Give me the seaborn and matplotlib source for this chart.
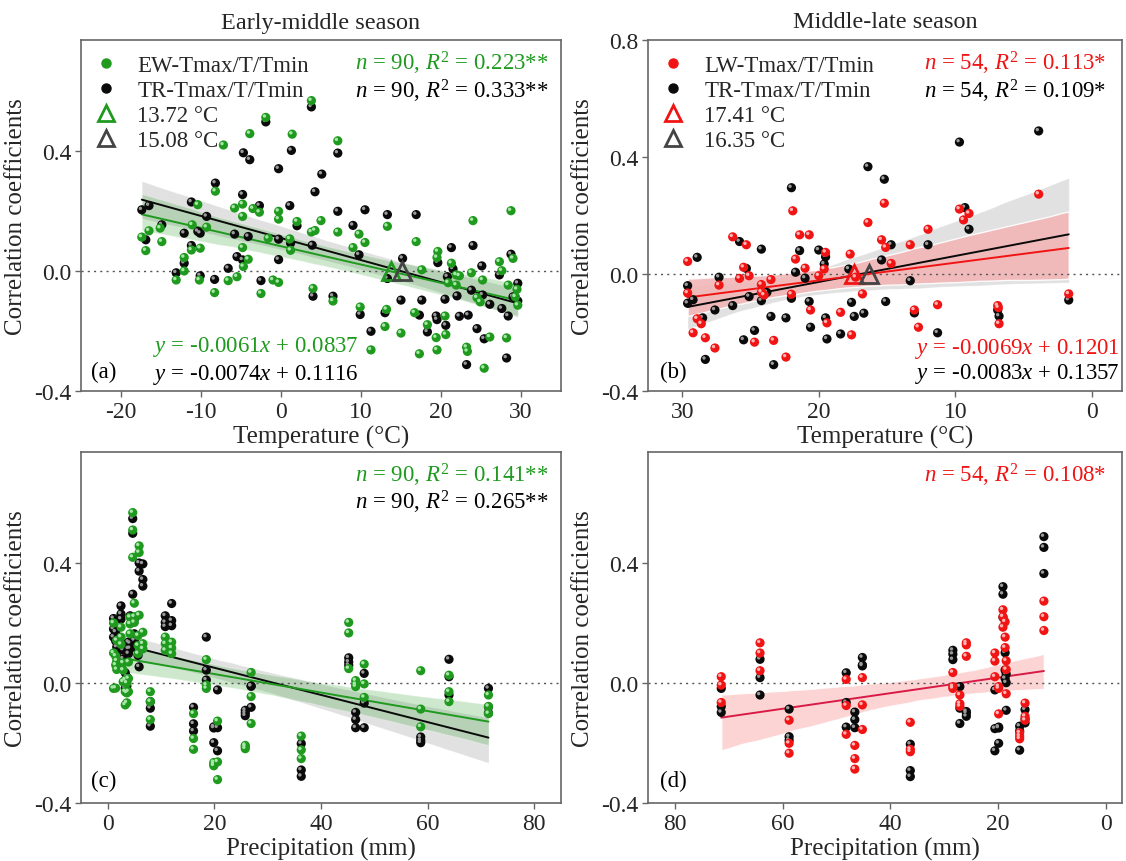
import numpy as np
import matplotlib
matplotlib.use('Agg')
import matplotlib.pyplot as plt
import matplotlib.transforms as mtransforms
from matplotlib.lines import Line2D
from matplotlib.ticker import FormatStrFormatter, MultipleLocator
import seaborn as sns

# (a) early-middle season, temperature vs correlation
ew_temp_a = [-17.4, -16.9, -16.5, -15.1, -14.9, -12.1, -12.1, -13.1, -11.2, -11.1,
             -10.4, -10.1, -10.2, -9.3, -8.2, -8.3, -7.2, -6.6, -5.8, -5.5,
             -4.8, -4.8, -4.8, -4.7, -4.1, -3.9, -3.5, -2.7, -2.5, -1.9,
             -1.6, -1.0, -0.3, -0.3, -0.3, 1.1, 1.2, 1.4, 2.0, 3.8,
             4.25, 3.8, 4.0, 5.0, 6.5, 7.1, 7.1, 9.0, 9.75, 9.9,
             10.5, 11.25, 13.0, 13.2, 13.3, 15.0, 16.7, 16.9, 17.3, 17.6,
             18.3, 19.4, 19.5, 19.6, 19.5, 20.5, 20.6, 20.9, 21.3, 21.9,
             22.3, 21.9, 23.2, 23.3, 23.8, 24.0, 24.5, 24.9, 25.2, 25.4,
             26.1, 27.3, 27.6, 28.2, 28.4, 28.75, 29.0, 29.3, 29.5, 29.6]
ew_corr_a = [0.113, 0.068, 0.134, 0.143, 0.098, 0.045, 0.0, -0.03, 0.070, 0.154,
             0.221, 0.076, -0.03, 0.146, 0.266, -0.072, 0.42, -0.032, 0.21, -0.019,
             0.223, 0.182, 0.078, 0.015, 0.039, 0.458, 0.208, 0.196, -0.075, 0.512,
             0.109, -0.03, 0.199, 0.173, -0.038, 0.107, 0.069, 0.456, 0.165, 0.13,
             0.135, 0.568, -0.058, 0.168, -0.10, 0.13, 0.434, 0.078, 0.123, -0.12,
             0.095, -0.263, -0.185, -0.128, 0.149, -0.207, -0.139, 0.098, -0.276, 0.004,
             -0.179, -0.222, -0.263, 0.065, 0.045, -0.15, -0.212, -0.039, 0.026, -0.013,
             -0.016, -0.047, -0.254, -0.268, -0.006, 0.168, -0.089, -0.103, -0.03, -0.324,
             -0.22, 0.031, 0.001, -0.223, -0.047, 0.201, 0.042, -0.086, -0.061, -0.114]
tr_temp_a = [-17.4, -16.5, -16.9, -14.9, -13.1, -12.1, -12.1, -11.2, -11.2, -10.4,
             -10.1, -10.1, -9.3, -8.2, -8.3, -6.6, -5.8, -5.5, -4.8, -4.7,
             -4.8, -4.1, -3.9, -2.7, -2.5, -1.9, -0.3, -0.3, -0.3, 1.1,
             1.2, 1.3, 2.0, 3.8, 3.9, 4.0, 4.25, 5.1, 6.5, 7.1,
             7.1, 9.0, 9.75, 9.9, 10.5, 11.25, 13.0, 13.3, 13.3, 15.0,
             15.2, 16.9, 17.3, 17.6, 18.3, 19.4, 19.5, 19.6, 20.5, 20.6,
             20.8, 21.3, 21.5, 22.0, 22.3, 23.2, 23.4, 23.8, 24.0, 24.5,
             25.1, 25.4, 25.2, 26.1, 27.3, 27.6, 28.2, 28.4, 28.75, 29.6,
             29.6, 29.0]
tr_corr_a = [0.204, 0.218, 0.104, 0.154, -0.006, 0.126, 0.026, 0.23, 0.085, 0.132,
             0.126, -0.016, 0.182, 0.293, -0.028, 0.009, 0.123, 0.048, 0.255, 0.394,
             0.037, 0.115, 0.371, 0.218, -0.032, 0.497, 0.106, 0.341, 0.038, 0.218,
             0.093, 0.402, 0.151, 0.547, 0.086, -0.084, 0.264, 0.323, -0.084, 0.199,
             0.393, 0.152, 0.054, -0.145, 0.204, -0.201, -0.139, 0.188, -0.025, -0.097,
             0.042, 0.188, -0.147, -0.097, -0.203, -0.15, -0.162, 0.028, -0.094, -0.181,
             -0.019, 0.078, 0.007, -0.083, -0.151, -0.312, -0.147, -0.064, 0.085, -0.192,
             0.017, -0.226, -0.08, -0.111, -0.013, -0.125, -0.29, -0.15, 0.056, -0.041,
             -0.10, -0.086]

# (b) middle-late season, temperature vs correlation
lw_temp_b = [29.6, 29.6, 29.2, 28.9, 28.6, 28.3, 27.6, 27.3, 26.3, 25.8,
             25.5, 25.3, 25.1, 24.7, 24.2, 24.0, 23.5, 23.3, 22.4, 22.0,
             21.9, 21.7, 21.4, 21.0, 20.7, 20.6, 20.0, 19.6, 19.5, 19.4,
             18.4, 17.7, 17.6, 17.3, 16.8, 16.4, 15.4, 15.2, 15.1, 14.7,
             13.3, 13.0, 12.7, 12.0, 11.3, 9.7, 9.4, 9.0, 6.9, 6.8,
             3.9, 1.7, 6.85, 24.2]
lw_corr_b = [0.043, -0.065, -0.201, -0.153, -0.17, -0.218, -0.253, -0.038, 0.127, -0.015,
             0.023, 0.10, -0.006, -0.233, -0.036, -0.072, -0.019, -0.227, -0.284, -0.069,
             0.216, 0.051, 0.134, 0.02, 0.134, -0.123, -0.006, 0.017, 0.074, -0.167,
             -0.131, 0.068, -0.208, -0.011, -0.068, 0.176, 0.117, 0.242, 0.091, 0.036,
             0.10, -0.123, -0.182, 0.153, -0.105, 0.222, 0.185, 0.207, -0.108, -0.17,
             0.273, -0.068, -0.115, -0.062]
tr_temp_b = [29.6, 29.6, 29.2, 28.9, 28.5, 28.3, 27.6, 27.3, 26.3, 25.8,
             25.5, 25.3, 25.1, 24.7, 24.2, 24.2, 23.8, 23.5, 23.3, 22.4,
             22.0, 22.0, 21.7, 21.4, 21.0, 20.7, 20.6, 20.0, 19.6, 19.5,
             19.5, 19.4, 18.4, 17.8, 17.6, 17.4, 16.7, 16.4, 15.4, 15.2,
             15.1, 14.7, 13.3, 13.0, 12.0, 11.3, 9.7, 9.3, 9.0, 6.9,
             6.8, 3.9, 1.7]
tr_corr_b = [-0.04, -0.10, -0.088, 0.057, -0.15, -0.292, -0.123, -0.011, -0.108, 0.111,
             -0.225, 0.019, -0.077, -0.193, 0.085, -0.091, -0.063, -0.145, -0.31, -0.15,
             0.295, -0.083, 0.006, 0.08, -0.014, -0.094, -0.182, 0.082, 0.034, 0.059,
             -0.15, -0.222, -0.205, 0.017, -0.097, -0.145, -0.134, 0.367, 0.048, 0.324,
             -0.094, 0.10, -0.023, -0.133, 0.10, -0.201, 0.451, 0.227, 0.153, -0.123,
             -0.144, 0.489, -0.089]

# (c) early-middle season, precipitation (three values per site: Tmax/T/Tmin)
precip_c = [1.1, 1.5, 1.7, 2.5, 2.9, 3.3, 3.6, 3.9, 4.2, 4.7,
            5.0, 5.7, 5.9, 6.6, 8.0, 10.8, 12.0, 16.1, 18.5, 19.9,
            20.6, 25.8, 26.9, 36.3, 45.2, 46.5, 48.1, 58.7, 64.0, 71.4]
ew_corr_c = [0.20, 0.10, -0.018, 0.09, 0.06, -0.017, 0.142, 0.074, 0.045,
             0.186, 0.153, 0.129, 0.067, 0.043, 0.004, 0.01, -0.029, -0.073,
             -0.033, -0.066, 0.0, 0.07, 0.015, -0.029, 0.219, 0.197, 0.164,
             0.568, 0.51, 0.419, 0.266, 0.221, 0.202, 0.158, 0.125, 0.098,
             0.457, 0.435, 0.226, 0.169, 0.131, 0.114, -0.029, -0.062, -0.122,
             0.153, 0.131, 0.109, 0.136, 0.117, 0.098, -0.102, -0.185, -0.221,
             0.078, -0.007, -0.018, -0.265, -0.276, -0.27, -0.127, -0.263, -0.322,
             -0.208, -0.219, -0.212, 0.035, -0.045, -0.135, -0.177, -0.223, -0.252,
             0.202, 0.167, 0.048, 0.008, -0.012, -0.005, 0.063, -0.003, -0.048,
             0.041, -0.087, -0.146, 0.026, -0.029, -0.062, -0.04, -0.078, -0.102]
tr_corr_c = [0.215, 0.18, 0.153, 0.17, 0.14, 0.10, 0.12, 0.10, 0.06,
             0.257, 0.23, 0.213, 0.13, 0.11, 0.08, 0.034, 0.004, -0.018,
             0.02, -0.01, -0.03, 0.136, 0.114, 0.098, 0.224, 0.132, 0.115,
             0.548, 0.499, 0.296, 0.213, 0.164, 0.142, 0.125, 0.11, 0.092,
             0.40, 0.373, 0.054, 0.397, 0.345, 0.323, -0.062, -0.084, -0.144,
             0.224, 0.202, 0.188, 0.265, 0.208, 0.191, -0.081, -0.136, -0.16,
             0.153, 0.043, 0.01, -0.146, -0.199, -0.15, -0.023, -0.149, -0.226,
             -0.091, -0.109, -0.10, -0.01, -0.081, -0.011, -0.202, -0.29, -0.311,
             0.084, 0.059, 0.07, -0.098, -0.122, -0.149, 0.032, -0.067, -0.149,
             -0.18, -0.191, -0.199, 0.079, 0.021, -0.04, -0.018, -0.08, -0.10]

# (d) middle-late season, precipitation
precip_d = [71.4, 64.2, 58.8, 48.2, 46.6, 45.2, 36.3, 28.4, 27.1,
            25.9, 20.6, 19.9, 19.1, 18.7, 18.5, 16.0, 15.0, 11.5]
lw_corr_d = [0.021, -0.007, -0.065, 0.134, 0.10, 0.041, -0.124, -0.201, -0.234,
             0.012, -0.075, -0.171, -0.208, -0.252, -0.287, 0.018, -0.073, -0.155,
             -0.131, -0.221, -0.229, 0.035, -0.012, -0.018, -0.04, -0.069, -0.078,
             0.134, 0.127, 0.089, 0.10, 0.073, 0.021, -0.018, -0.103, -0.012,
             0.244, 0.221, 0.186, 0.204, 0.153, 0.118, 0.074, 0.045, -0.036,
             -0.166, -0.177, -0.186, -0.067, -0.111, -0.124, 0.273, 0.221, 0.175]
tr_corr_d = [-0.018, -0.078, -0.098, 0.079, 0.018, -0.04, -0.087, -0.179, -0.191,
             0.034, -0.065, -0.147, -0.097, -0.122, -0.149, 0.085, 0.057, 0.06,
             -0.204, -0.292, -0.312, 0.109, 0.096, 0.078, -0.012, -0.084, -0.135,
             -0.095, -0.111, -0.10, -0.023, -0.152, -0.226, -0.147, -0.201, -0.15,
             0.321, 0.296, 0.219, 0.101, 0.043, 0.015, 0.001, -0.091, 0.03,
             -0.144, -0.224, -0.16, -0.089, -0.133, -0.12, 0.488, 0.452, 0.365]

# reported fits (slope, intercept) and statistics
eq_ew_a = (-0.0061, 0.0837)
eq_tr_a = (-0.0074, 0.1116)
eq_lw_b = (-0.0069, 0.1201)
eq_tr_b = (-0.0083, 0.1357)
stats_a = ['$n$ = 90, $R^2$ = 0.223**', '$n$ = 90, $R^2$ = 0.333**']
stats_b = ['$n$ = 54, $R^2$ = 0.113*', '$n$ = 54, $R^2$ = 0.109*']
stats_c = ['$n$ = 90, $R^2$ = 0.141**', '$n$ = 90, $R^2$ = 0.265**']
stats_d = ['$n$ = 54, $R^2$ = 0.108*']

GREEN = '#1f9a1f'
RED = '#f01414'
BLACK = '#0a0a0a'
GREY = '#444444'

sns.set_style('ticks')
plt.rcParams['font.family'] = ['Liberation Serif', 'DejaVu Serif']
plt.rcParams['mathtext.fontset'] = 'custom'
plt.rcParams['mathtext.rm'] = 'Liberation Serif'
plt.rcParams['mathtext.it'] = 'Liberation Serif:italic'
plt.rcParams['axes.unicode_minus'] = False

W, H = 1126, 862
fig = plt.figure(figsize=(W / 100, H / 100), dpi=100)


def px_axes(left, top, right, bottom):
    return fig.add_axes([left / W, 1 - bottom / H, (right - left) / W, (bottom - top) / H])


ax_a = px_axes(81, 41, 561, 392)
ax_b = px_axes(648, 41, 1122, 392)
ax_c = px_axes(81, 453, 561, 804)
ax_d = px_axes(648, 453, 1122, 804)


def spheres(ax, x, y, color, shine, z):
    ax.scatter(x, y, s=44, color=color, edgecolor='none', zorder=z)
    off = mtransforms.offset_copy(ax.transData, fig=fig, x=-1.4, y=1.4, units='dots')
    ax.scatter(x, y, s=6, color=shine, edgecolor='none', zorder=z + 0.1, transform=off)


def fit(ax, x, y, color, band_alpha, z, line_color=None, band_color=None):
    sns.regplot(x=np.asarray(x, float), y=np.asarray(y, float), ax=ax, scatter=False,
                color=color, truncate=True, seed=3, line_kws={'lw': 1.4, 'zorder': z + 1})
    band = ax.collections[-1]
    if band_color:
        band.set_facecolor(band_color)
    band.set_alpha(band_alpha)
    band.set_zorder(z)
    if line_color:
        ax.lines[-1].set_color(line_color)


def style(ax, ylim, xlim, xstep, xlabel):
    ax.set_xlim(*xlim)
    ax.set_ylim(*ylim)
    ax.xaxis.set_major_locator(MultipleLocator(xstep))
    ax.yaxis.set_major_locator(MultipleLocator(0.4))
    ax.yaxis.set_major_formatter(FormatStrFormatter('%.1f'))
    ax.tick_params(direction='out', length=4, width=1, color='#666666', labelsize=17, pad=3)
    for s in ax.spines.values():
        s.set_color('#666666')
        s.set_linewidth(1.2)
    ax.axhline(0, color='#555555', lw=1, ls=(0, (1.5, 3)), zorder=1.5)
    ax.set_xlabel(xlabel, fontsize=18, labelpad=2)
    ax.set_ylabel('Correlation coefficients', fontsize=18, labelpad=5)


def put(ax, x, y, s, color='black', ha='left', size=16.5):
    ax.text(x, y, s, transform=ax.transAxes, color=color, ha=ha, va='center', fontsize=size)


def eq_text(eq):
    return '$y$ = %.4f$x$ + %.4f' % eq


def crossing(eq):
    return -eq[1] / eq[0]


def legend(ax, c1, l1, c2, l2, x1, x2):
    handles = [
        Line2D([], [], ls='none', marker='o', ms=6.5, color=c1, label=l1),
        Line2D([], [], ls='none', marker='o', ms=6.5, color=BLACK, label=l2),
        Line2D([], [], ls='none', marker='^', ms=12, mfc='none', mec=c2, mew=2,
               label='%.2f °C' % x1),
        Line2D([], [], ls='none', marker='^', ms=12, mfc='none', mec=GREY, mew=2,
               label='%.2f °C' % x2),
    ]
    ax.legend(handles=handles, loc='upper left', frameon=False, fontsize=16.5,
              handletextpad=0.9, labelspacing=0.18, borderaxespad=0.2,
              borderpad=0.45, handlelength=0.9)


# (a)
fit(ax_a, tr_temp_a, tr_corr_a, BLACK, 0.12, 1)
fit(ax_a, ew_temp_a, ew_corr_a, GREEN, 0.22, 1.2)
spheres(ax_a, tr_temp_a, tr_corr_a, BLACK, '#9a9a9a', 3)
spheres(ax_a, ew_temp_a, ew_corr_a, GREEN, '#a6e6a6', 4)
ax_a.plot(crossing(eq_ew_a), 0, ls='none', marker='^', ms=13, mfc='none', mec=GREEN, mew=2, zorder=6)
ax_a.plot(crossing(eq_tr_a), 0, ls='none', marker='^', ms=13, mfc='none', mec=GREY, mew=2, zorder=6)
style(ax_a, (-0.4, 0.77), (-25, 35), 10, 'Temperature (°C)')
ax_a.set_title('Early-middle season', fontsize=17.5, pad=9)
legend(ax_a, GREEN, 'EW-Tmax/T/Tmin', GREEN, 'TR-Tmax/T/Tmin',
       crossing(eq_ew_a), crossing(eq_tr_a))
put(ax_a, 0.975, 0.937, stats_a[0], GREEN, 'right')
put(ax_a, 0.975, 0.855, stats_a[1], 'black', 'right')
put(ax_a, 0.15, 0.128, eq_text(eq_ew_a), GREEN)
put(ax_a, 0.15, 0.048, eq_text(eq_tr_a))
put(ax_a, 0.02, 0.057, '(a)')

# (b)
fit(ax_b, tr_temp_b, tr_corr_b, BLACK, 0.12, 1)
fit(ax_b, lw_temp_b, lw_corr_b, RED, 0.9, 1.2, band_color='#f3b6b6')
spheres(ax_b, tr_temp_b, tr_corr_b, BLACK, '#9a9a9a', 3)
spheres(ax_b, lw_temp_b, lw_corr_b, RED, '#ffb4b4', 4)
ax_b.plot(crossing(eq_lw_b), 0, ls='none', marker='^', ms=13, mfc='none', mec=RED, mew=2, zorder=6)
ax_b.plot(crossing(eq_tr_b), 0, ls='none', marker='^', ms=13, mfc='none', mec=GREY, mew=2, zorder=6)
style(ax_b, (-0.4, 0.8), (32.5, -2.2), 10, 'Temperature (°C)')
ax_b.set_title('Middle-late season', fontsize=17.5, pad=9)
legend(ax_b, RED, 'LW-Tmax/T/Tmin', RED, 'TR-Tmax/T/Tmin',
       crossing(eq_lw_b), crossing(eq_tr_b))
put(ax_b, 0.966, 0.937, stats_b[0], RED, 'right')
put(ax_b, 0.966, 0.855, stats_b[1], 'black', 'right')
put(ax_b, 0.995, 0.122, eq_text(eq_lw_b), RED, 'right')
put(ax_b, 0.995, 0.051, eq_text(eq_tr_b), 'black', 'right')
put(ax_b, 0.025, 0.057, '(b)')

# (c)
px_c = np.repeat(precip_c, 3)
fit(ax_c, px_c, tr_corr_c, BLACK, 0.12, 1)
fit(ax_c, px_c, ew_corr_c, GREEN, 0.22, 1.2)
spheres(ax_c, px_c, tr_corr_c, BLACK, '#9a9a9a', 3)
spheres(ax_c, px_c, ew_corr_c, GREEN, '#a6e6a6', 4)
style(ax_c, (-0.4, 0.77), (-5, 85), 20, 'Precipitation (mm)')
put(ax_c, 0.975, 0.937, stats_c[0], GREEN, 'right')
put(ax_c, 0.975, 0.858, stats_c[1], 'black', 'right')
put(ax_c, 0.02, 0.063, '(c)')

# (d)
px_d = np.repeat(precip_d, 3)
fit(ax_d, px_d, lw_corr_d, RED, 0.9, 1, line_color='#d81b45', band_color='#fdd0d0')
spheres(ax_d, px_d, tr_corr_d, BLACK, '#9a9a9a', 3)
spheres(ax_d, px_d, lw_corr_d, RED, '#ffb4b4', 4)
style(ax_d, (-0.4, 0.77), (85, -3), 20, 'Precipitation (mm)')
put(ax_d, 0.966, 0.937, stats_d[0], RED, 'right')
put(ax_d, 0.025, 0.063, '(d)')

fig.savefig('out.png', dpi=100)
